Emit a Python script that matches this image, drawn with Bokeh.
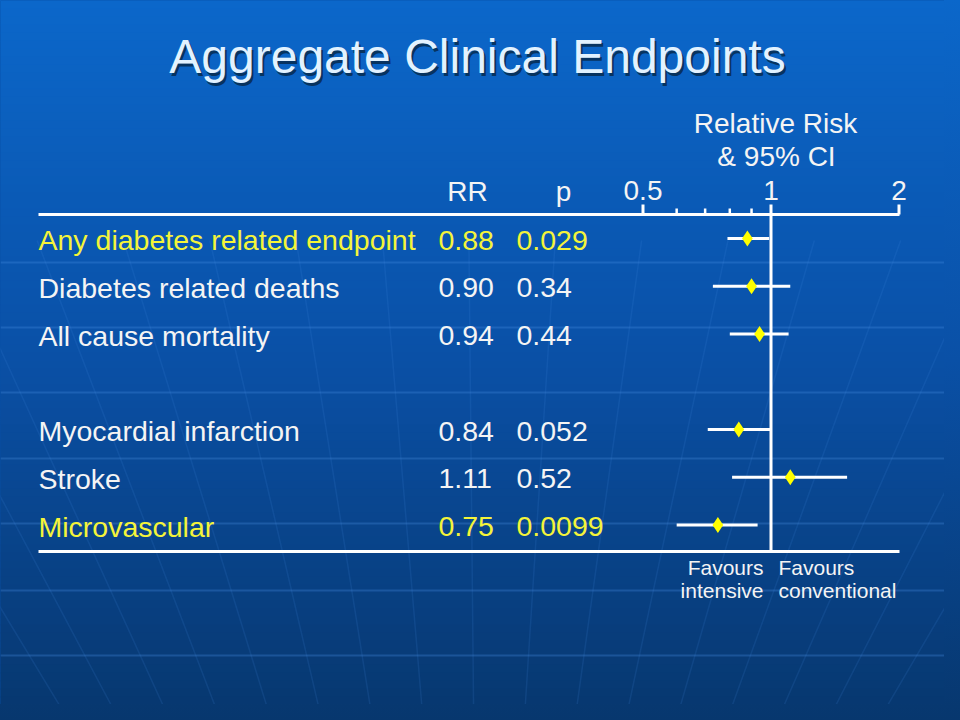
from bokeh.plotting import figure
from bokeh.models import Range1d, LinearScale
from bokeh.core.properties import value
from bokeh.embed import file_html
from bokeh.resources import INLINE

# ---------------- data ----------------
endpoints = ["Any diabetes related endpoint", "Diabetes related deaths", "All cause mortality",
             "Myocardial infarction", "Stroke", "Microvascular"]
rr = [0.88, 0.90, 0.94, 0.84, 1.11, 0.75]
rr_labels = ["0.88", "0.90", "0.94", "0.84", "1.11", "0.75"]
p_values = ["0.029", "0.34", "0.44", "0.052", "0.52", "0.0099"]
ci_low = [0.79, 0.73, 0.80, 0.71, 0.81, 0.60]
ci_high = [0.99, 1.11, 1.10, 1.00, 1.51, 0.93]
highlight = [True, False, False, False, False, True]
row_slot = [0, 1, 2, 4, 5, 6]
major_ticks = [0.5, 1, 2]
major_tick_labels = ["0.5", "1", "2"]
minor_ticks = [0.6, 0.7, 0.8, 0.9]
title_text = "Aggregate Clinical Endpoints"

# ---------------- layout ----------------
W, H = 944, 704
X_ONE = 770.5          # page x of RR = 1
PX_PER_DOUBLING = 128.0
ROW0_Y = 238.0         # page y of first row
ROW_STEP = 47.75
BASE_FIX = 0.42        # renderer places alphabetic baseline ~0.42em low

x_start = 2 ** ((0 - X_ONE) / PX_PER_DOUBLING)
x_end = 2 ** ((W - X_ONE) / PX_PER_DOUBLING)
y_top = (0 - ROW0_Y) / ROW_STEP
y_bot = (H - ROW0_Y) / ROW_STEP

p = figure(width=W, height=H, x_axis_type="log",
           x_range=Range1d(x_start, x_end), y_range=Range1d(y_bot, y_top),
           output_backend="svg", toolbar_location=None, min_border=0,
           x_axis_location=None, y_axis_location=None)
p.extra_x_ranges = {"px": Range1d(0, W)}
p.extra_y_ranges = {"py": Range1d(H, 0)}
p.extra_x_scales = {"px": LinearScale()}
p.extra_y_scales = {"py": LinearScale()}
p.grid.visible = False
p.outline_line_color = None
p.background_fill_color = "#0a50a6"
p.border_fill_color = "#0a50a6"

FONT = value("Liberation Sans")
WHITE = "#f4f4f4"
YELLOW = "#f4f43a"


def fix(fs):
    return -BASE_FIX * fs


# ---------------- background gradient ----------------
stops = [(0, (11, 103, 202)), (360, (10, 80, 166)), (720, (7, 55, 110))]


def grad(y):
    for (y0, c0), (y1, c1) in zip(stops[:-1], stops[1:]):
        if y0 <= y <= y1:
            t = (y - y0) / (y1 - y0)
            return "#%02x%02x%02x" % tuple(int(round(a + (b - a) * t)) for a, b in zip(c0, c1))
    return "#%02x%02x%02x" % stops[-1][1]


band = 8
tops = list(range(0, 720, band))
p.quad(left=0, right=960, top=tops, bottom=[t + band + 1 for t in tops],
       fill_color=[grad(t + band / 2) for t in tops], line_color=None,
       x_range_name="px", y_range_name="py")

# globe lines (decoration)
lat_y = [262, 327, 392, 458, 523, 590, 655]
p.segment(x0=0, x1=960, y0=lat_y, y1=lat_y, line_color="#4a8fe0", line_alpha=0.3,
          line_width=2, x_range_name="px", y_range_name="py")
mer_xs, mer_ys = [], []
for k in range(-8, 9):
    x500 = 471 + 67 * k
    ys = [240, 720]
    xs = [480 + (x500 - 480) * (1400 - y) / 900 for y in ys]
    mer_xs.append(xs)
    mer_ys.append(ys)
p.multi_line(xs=mer_xs, ys=mer_ys, line_color="#4a8fe0", line_alpha=0.14, line_width=1.5,
             x_range_name="px", y_range_name="py")

# ---------------- title ----------------
TFS = 48
p.text(x=[479], y=[79], text=[title_text], text_font=FONT, text_font_size=f"{TFS}px",
       text_color="#06243f", text_alpha=0.75, text_align="center", text_baseline="alphabetic",
       y_offset=fix(TFS), x_range_name="px", y_range_name="py")
p.text(x=[477], y=[76], text=[title_text], text_font=FONT, text_font_size=f"{TFS}px",
       text_color="#e2f2ff", text_align="center", text_baseline="alphabetic",
       y_offset=fix(TFS), x_range_name="px", y_range_name="py")

# ---------------- scale header ----------------
FS = 28
p.text(x=[775], y=[135], text=["Relative Risk"], text_font=FONT, text_font_size=f"{FS}px",
       text_color=WHITE, text_align="center", text_baseline="alphabetic", y_offset=fix(FS),
       x_range_name="px", y_range_name="py")
p.text(x=[776], y=[168], text=["& 95% CI"], text_font=FONT, text_font_size=f"{FS}px",
       text_color=WHITE, text_align="center", text_baseline="alphabetic", y_offset=fix(FS),
       x_range_name="px", y_range_name="py")
p.text(x=major_ticks, y=[202] * len(major_ticks), text=major_tick_labels, text_font=FONT,
       text_font_size=f"{FS}px", text_color=WHITE, text_align="center",
       text_baseline="alphabetic", y_offset=fix(FS), y_range_name="py")
p.text(x=[467, 563], y=[203, 203], text=["RR", "p"], text_font=FONT, text_font_size=f"{FS}px",
       text_color=WHITE, text_align="center", text_baseline="alphabetic", y_offset=fix(FS),
       x_range_name="px", y_range_name="py")

# axis lines and ticks
p.segment(x0=[38, 38], x1=[899, 899], y0=[214, 551], y1=[214, 551], line_color="white",
          line_width=3, x_range_name="px", y_range_name="py")
p.segment(x0=[0.5, 2], x1=[0.5, 2], y0=[204, 204], y1=[214, 214], line_color="white",
          line_width=3, y_range_name="py")
p.segment(x0=minor_ticks, x1=minor_ticks, y0=[208] * 4, y1=[214] * 4, line_color="white",
          line_width=2.5, y_range_name="py")
p.segment(x0=[1], x1=[1], y0=[204], y1=[551], line_color="white", line_width=3,
          y_range_name="py")

# ---------------- rows ----------------
RFS = 28.5
row_colors = [YELLOW if h else WHITE for h in highlight]
for xpos, texts in ((38, endpoints), (438, rr_labels), (516, p_values)):
    p.text(x=[xpos] * len(texts), y=row_slot, text=texts, text_font=FONT,
           text_font_size=f"{RFS}px", text_color=row_colors, text_baseline="alphabetic",
           y_offset=13.5 + fix(RFS), x_range_name="px")

p.segment(x0=ci_low, x1=ci_high, y0=row_slot, y1=row_slot, line_color="white", line_width=3)
p.scatter(x=rr, y=row_slot, marker="diamond", size=16, fill_color="#ffff00", line_color=None)

# ---------------- favours labels ----------------
FFS = 21
p.text(x=[763, 763], y=[576, 599], text=["Favours", "intensive"], text_font=FONT,
       text_font_size=f"{FFS}px", text_color=WHITE, text_align="right",
       text_baseline="alphabetic", y_offset=fix(FFS), x_range_name="px", y_range_name="py")
p.text(x=[778, 778], y=[576, 599], text=["Favours", "conventional"], text_font=FONT,
       text_font_size=f"{FFS}px", text_color=WHITE, text_align="left",
       text_baseline="alphabetic", y_offset=fix(FFS), x_range_name="px", y_range_name="py")

html = file_html(p, INLINE, title="Aggregate Clinical Endpoints")
html = html.replace("<head>", "<head><style>html{background:linear-gradient(#0b67ca,#0a50a6 50%,#07376e) fixed;min-height:100%}</style>", 1)
open("out.html", "w").write(html)
